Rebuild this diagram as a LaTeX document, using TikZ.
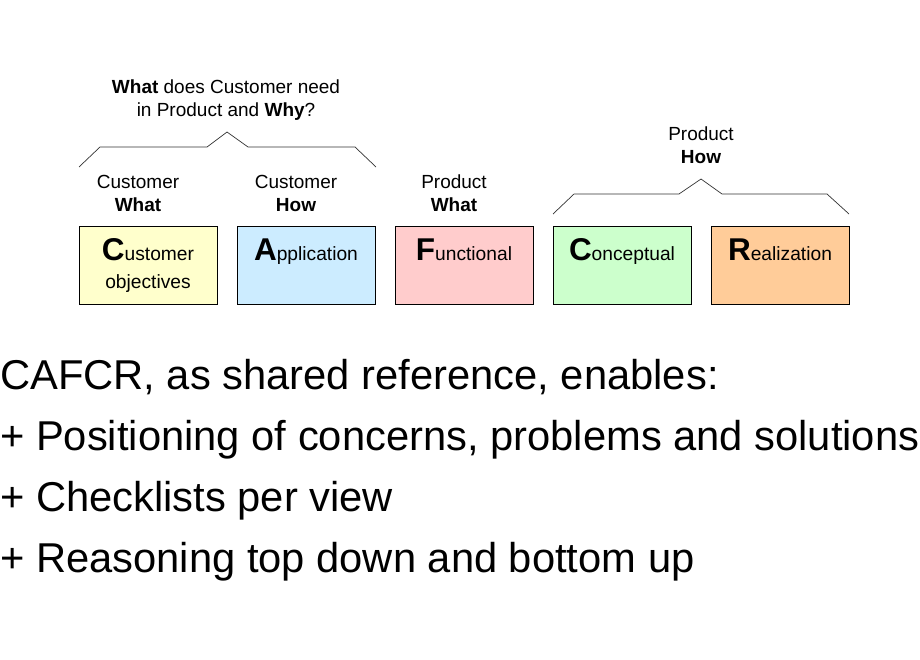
\documentclass[tikz,border=0pt]{standalone}
\usepackage{fontspec}
\setmainfont{Liberation Sans}
\definecolor{cyel}{HTML}{FFFFCC}
\definecolor{cblu}{HTML}{CCECFF}
\definecolor{cpnk}{HTML}{FFCCCC}
\definecolor{cgrn}{HTML}{CCFFCC}
\definecolor{corg}{HTML}{FFCC99}
\tikzset{
  viewbox/.style={draw=black, line width=0.8pt, minimum width=138pt, minimum height=78pt, inner sep=0pt, anchor=north west},
  small/.style={font=\fontsize{19}{22}\selectfont, inner sep=0pt, anchor=base},
  boxtext/.style={font=\fontsize{19.2}{22}\selectfont, inner sep=0pt, anchor=base},
  bigline/.style={font=\fontsize{41.7}{48}\selectfont, inner sep=0pt, anchor=base west},
  brace/.style={draw=black!80, line width=0.7pt},
}
\newcommand{\bigletter}[1]{{\fontsize{31.5}{34}\selectfont\bfseries #1}}
\begin{document}
\begin{tikzpicture}[x=1pt,y=-1pt]
\useasboundingbox[fill=white] (0,0) rectangle (920,660);
% boxes
\node[viewbox, fill=cyel] (bC) at (79,226) {};
\node[viewbox, fill=cblu] (bA) at (237,226) {};
\node[viewbox, fill=cpnk] (bF) at (395,226) {};
\node[viewbox, fill=cgrn] (bK) at (553,226) {};
\node[viewbox, fill=corg] (bR) at (711,226) {};
% box texts
\node[boxtext] (tC1) at (148,261) {\bigletter{C}ustomer};
\node[boxtext] (tC2) at (148,288) {objectives};
\node[boxtext] (tA) at (306,261) {\bigletter{A}pplication};
\node[boxtext] (tF) at (464,261) {\bigletter{F}unctional};
\node[boxtext] (tK) at (622,261) {\bigletter{C}onceptual};
\node[boxtext] (tR) at (780,261) {\bigletter{R}ealization};
% labels above boxes
\node[small] (l1a) at (138,189) {Customer};
\node[small] (l1b) at (138,212) {\bfseries What};
\node[small] (l2a) at (296,189) {Customer};
\node[small] (l2b) at (296,212) {\bfseries How};
\node[small] (l3a) at (454,189) {Product};
\node[small] (l3b) at (454,212) {\bfseries What};
\node[small] (l4a) at (701,141) {Product};
\node[small] (l4b) at (701,164) {\bfseries How};
\node[small] (q1) at (226,94) {\bfseries What\mdseries{} does Customer need};
\node[small] (q2) at (226,117) {in Product and \bfseries Why\mdseries ?};
% braces
\coordinate (p1) at (79,167);
\coordinate (p2) at (376,167);
\draw[brace] (p1) -- (100,147) -- (207,147) -- (227,132) -- (248,147) -- (355,147) -- (p2);
\coordinate (r1) at (553,214);
\coordinate (r2) at (849,214);
\draw[brace] (r1) -- (574,194) -- (679,194) -- (701,179) -- (722,194) -- (827,194) -- (r2);
% bottom text
\node[bigline] (s1) at (0,389) {CAFCR, as shared reference, enables:};
\node[bigline] (s2) at (0,450) {+ Positioning of concerns, problems and solutions};
\node[bigline] (s3) at (0,511) {+ Checklists per view};
\node[bigline] (s4) at (0,572) {+ Reasoning top down and bottom up};
\end{tikzpicture}
\end{document}
